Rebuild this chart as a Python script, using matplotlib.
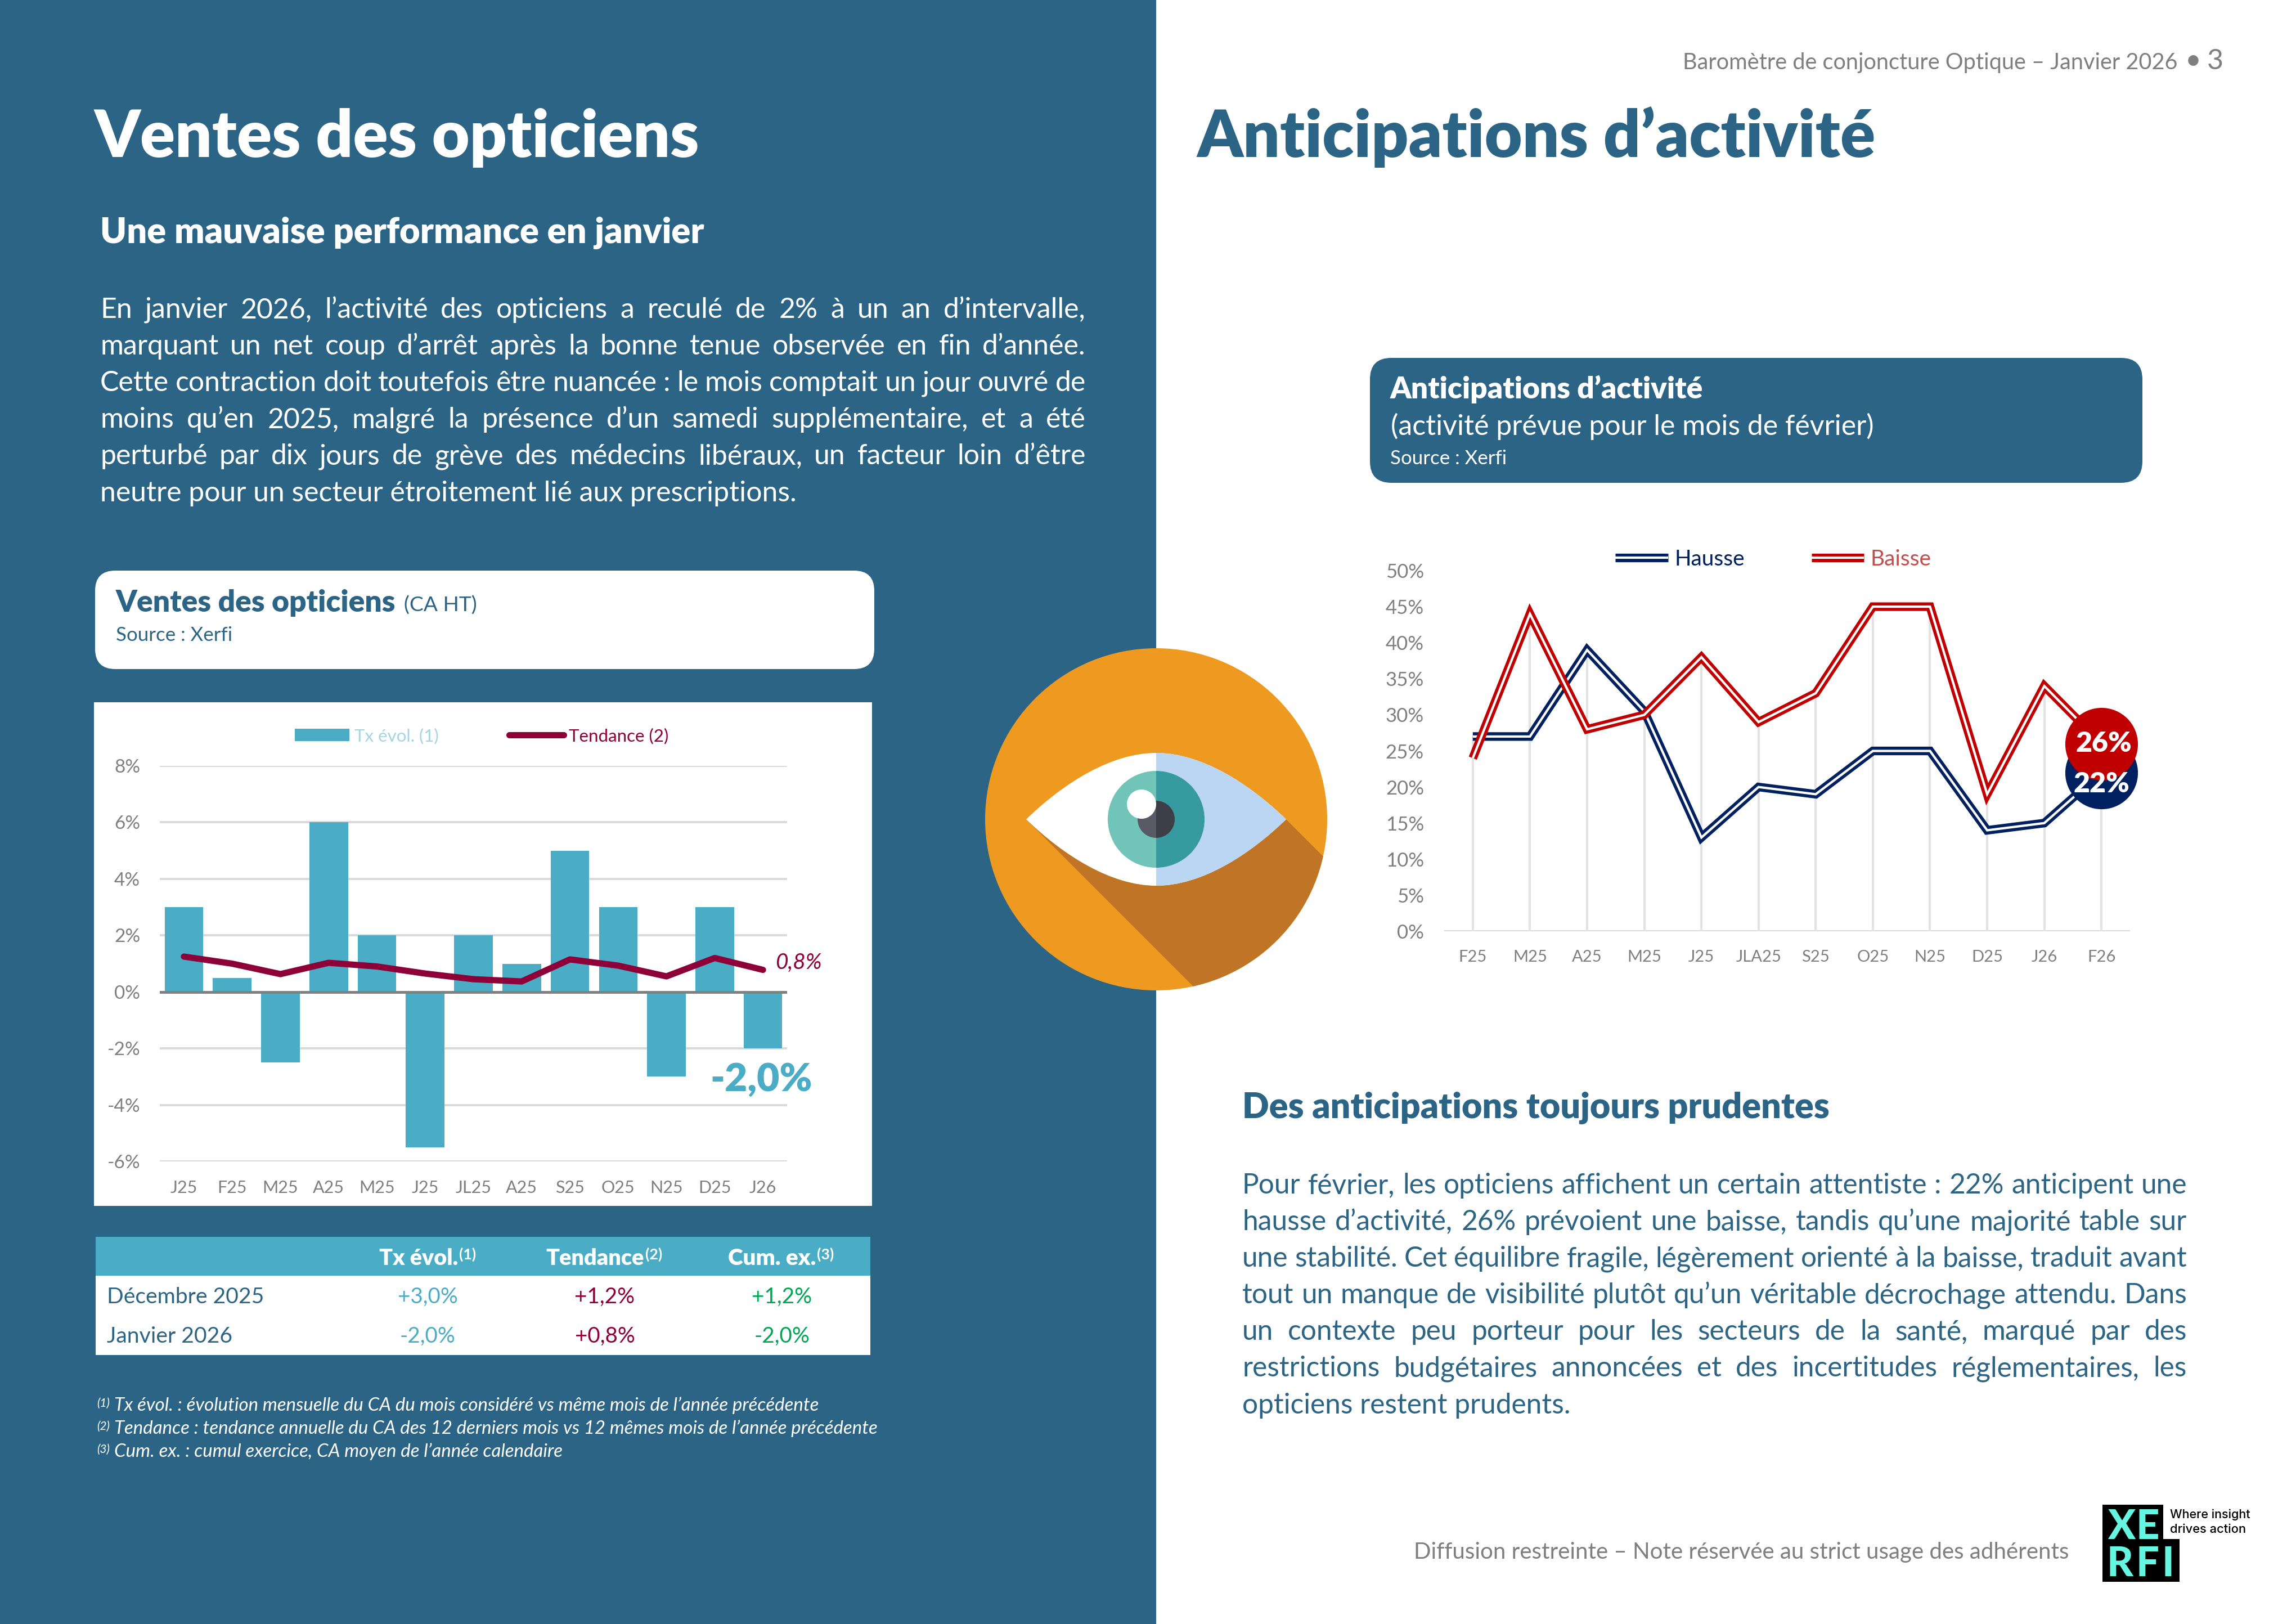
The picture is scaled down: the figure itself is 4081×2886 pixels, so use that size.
#!/usr/bin/env python3
"""Barometre optique, page 3: ventes des opticiens et anticipations d'activite"""

import matplotlib
matplotlib.use('Agg')
import matplotlib.pyplot as plt
from matplotlib.patches import Circle, FancyBboxPatch, PathPatch, Polygon, Rectangle, Wedge
from matplotlib.path import Path
import matplotlib.patheffects as pe

plt.rcParams['font.family'] = ['Lato', 'DejaVu Sans']

# Ventes des opticiens
sales_months = ['J25', 'F25', 'M25', 'A25', 'M25', 'J25', 'JL25', 'A25', 'S25', 'O25', 'N25', 'D25', 'J26']
sales_growth = [3, 0.5, -2.5, 6, 2, -5.5, 2, 1, 5, 3, -3, 3, -2]
sales_trend = [1.25, 1.0, 0.63, 1.03, 0.9, 0.65, 0.45, 0.37, 1.15, 0.93, 0.55, 1.2, 0.78]
sales_ticks = [-6, -4, -2, 0, 2, 4, 6, 8]

# Anticipations d'activite
antic_months = ['F25', 'M25', 'A25', 'M25', 'J25', 'JLA25', 'S25', 'O25', 'N25', 'D25', 'J26', 'F26']
antic_up = [27, 27, 39, 30.5, 13, 20, 19, 25, 25, 14, 15, 22]
antic_down = [24, 44, 28, 30, 38, 29, 33, 45, 45, 19, 34, 26]
antic_ticks = [0, 5, 10, 15, 20, 25, 30, 35, 40, 45, 50]

# Tableau
table_columns = ['Tx évol.', 'Tendance', 'Cum. ex.']
table_rows = ['Décembre 2025', 'Janvier 2026']
table_growth = ['+3,0%', '-2,0%']
table_trend = ['+1,2%', '+0,8%']
table_cumul = ['+1,2%', '-2,0%']

footnotes = [
    'Tx évol. : évolution mensuelle du CA du mois considéré vs même mois de l’année précédente',
    'Tendance : tendance annuelle du CA des 12 derniers mois vs 12 mêmes mois de l’année précédente',
    'Cum. ex. : cumul exercice, CA moyen de l’année calendaire',
]

left_lines = [
    'En janvier 2026, l’activité des opticiens a reculé de 2% à un an d’intervalle,',
    'marquant un net coup d’arrêt après la bonne tenue observée en fin d’année.',
    'Cette contraction doit toutefois être nuancée : le mois comptait un jour ouvré de',
    'moins qu’en 2025, malgré la présence d’un samedi supplémentaire, et a été',
    'perturbé par dix jours de grève des médecins libéraux, un facteur loin d’être',
    'neutre pour un secteur étroitement lié aux prescriptions.',
]
right_lines = [
    'Pour février, les opticiens affichent un certain attentiste : 22% anticipent une',
    'hausse d’activité, 26% prévoient une baisse, tandis qu’une majorité table sur',
    'une stabilité. Cet équilibre fragile, légèrement orienté à la baisse, traduit avant',
    'tout un manque de visibilité plutôt qu’un véritable décrochage attendu. Dans',
    'un contexte peu porteur pour les secteurs de la santé, marqué par des',
    'restrictions budgétaires annoncées et des incertitudes réglementaires, les',
    'opticiens restent prudents.',
]

W, H = 4081, 2886
BLUE = '#2C6486'
TEAL = '#4BACC6'
MAROON = '#8E0038'
GREEN = '#00A651'
NAVY = '#002060'
RED = '#C00000'
GREY = '#7F7F7F'
HEAD = 'heavy'

fig = plt.figure(figsize=(W / 100, H / 100), dpi=100, facecolor='white')
bg = fig.add_axes([0, 0, 1, 1], zorder=0)
bg.set_xlim(0, W)
bg.set_ylim(H, 0)
bg.axis('off')
renderer = fig.canvas.get_renderer()


def text_width(s, size, **kw):
    t = bg.text(0, 0, s, fontsize=size, **kw)
    w = t.get_window_extent(renderer).width
    t.remove()
    return w


def fit_size(s, width, **kw):
    return 40 * width / text_width(s, 40, **kw)


def put(x, y, s, width=None, size=None, color='white', **kw):
    """Text on baseline y (page pixels), sized to a target width if given"""
    style = {k: v for k, v in kw.items() if k in ('fontweight', 'fontstyle', 'family')}
    if width is not None:
        size = fit_size(s, width, **style)
    return bg.text(x, y, s, fontsize=size, color=color, va='baseline', **kw)


def justified(x0, x1, baselines, lines, size, color):
    for i, (line, y) in enumerate(zip(lines, baselines)):
        if i == len(lines) - 1:
            put(x0, y, line, size=size, color=color)
            continue
        words = line.split(' ')
        widths = [text_width(w, size) for w in words]
        gap = (x1 - x0 - sum(widths)) / (len(words) - 1)
        x = x0
        for word, w in zip(words, widths):
            put(x, y, word, size=size, color=color)
            x += w + gap


def rounded(x0, y0, x1, y1, r, color):
    bg.add_patch(FancyBboxPatch((x0 + r, y0 + r), x1 - x0 - 2 * r, y1 - y0 - 2 * r,
                                boxstyle=f'round,pad={r},rounding_size={r}',
                                fc=color, ec='none'))


# Page background
bg.add_patch(Rectangle((0, 0), 2055, H, fc=BLUE, ec='none'))

# Header and titles
put(2991, 123, 'Baromètre de conjoncture Optique – Janvier 2026', width=882, color=GREY)
put(3898, 123, '•', size=36, color=GREY, ha='center')
put(3923, 123, '3', size=36, color=GREY)
put(167, 279, 'Ventes des opticiens', width=1076, fontweight=HEAD)
put(2127, 279, 'Anticipations d’activité', width=1206, color=BLUE, fontweight=HEAD)
put(178, 432, 'Une mauvaise performance en janvier', width=1073, fontweight=HEAD)
put(2208, 1987, 'Des anticipations toujours prudentes', width=1042, color=BLUE, fontweight=HEAD)

# Paragraphs
size_left = fit_size(left_lines[-1], 1234)
justified(178, 1930, [565 + 65.1 * i for i in range(6)], left_lines, size_left, 'white')
size_right = fit_size(right_lines[-1], 583)
justified(2208, 3887, [2121 + 65.1 * i for i in range(7)], right_lines, size_right, BLUE)

# Left chart title box and panel
rounded(169, 1014, 1554, 1189, 36, 'white')
put(206, 1087, 'Ventes des opticiens', width=498, color=BLUE, fontweight=HEAD)
put(718, 1087, '(CA HT)', width=130, color=BLUE)
put(206, 1139, 'Source : Xerfi', width=207, color=BLUE)
bg.add_patch(Rectangle((167, 1248), 1383, 895, fc='white', ec='none'))

# Right chart title box
rounded(2435, 636, 3808, 858, 38, BLUE)
put(2471, 708, 'Anticipations d’activité', width=556, fontweight=HEAD)
put(2472, 773, '(activité prévue pour le mois de février)', width=856)
put(2471, 825, 'Source : Xerfi', width=207)

# Table
bg.add_patch(Rectangle((170, 2198), 1377, 69, fc=TEAL, ec='none'))
bg.add_patch(Rectangle((170, 2267), 1377, 141, fc='white', ec='none'))
head_x = [674, 970, 1294]
head_w = [140, 174, 156]
sup_x = [816, 1147, 1452]
for i, col in enumerate(table_columns):
    put(head_x[i], 2248, col, width=head_w[i], fontweight=HEAD)
    put(sup_x[i], 2238, f'({i + 1})', width=30, fontweight='bold')
row_y = [2316, 2386]
size_row = fit_size(table_rows[0], 279)
size_val = fit_size(table_growth[0], 107)
for i, row in enumerate(table_rows):
    put(190, row_y[i], row, size=size_row, color=BLUE)
    put(760, row_y[i], table_growth[i], size=size_val, color=TEAL, ha='center')
    put(1075, row_y[i], table_trend[i], size=size_val, color=MAROON, ha='center')
    put(1390, row_y[i], table_cumul[i], size=size_val, color=GREEN, ha='center')

# Footnotes
size_note = fit_size(footnotes[1], 1353, fontstyle='italic')
note_y = [2507, 2548, 2589]
for i, note in enumerate(footnotes):
    put(172, note_y[i] - 7, f'({i + 1})', width=23, fontstyle='italic')
    put(203, note_y[i], note, size=size_note, fontstyle='italic')

# Footer
put(2513, 2770, 'Diffusion restreinte – Note réservée au strict usage des adhérents', width=1165, color=GREY)

# Xerfi logo
bg.add_patch(Polygon([(3737, 2674), (3845, 2674), (3845, 2735), (3874, 2735), (3874, 2811), (3737, 2811)],
                     fc='black', ec='none'))
logo_letters = ['X', 'E', 'R', 'F', 'I']
logo_x = [3746, 3797, 3745, 3797, 3843]
logo_y = [2735, 2735, 2801, 2801, 2801]
for letter, x, y in zip(logo_letters, logo_x, logo_y):
    put(x, y, letter, size=52, color='#66F5E0', fontweight='black')
put(3857, 2698, 'Where insight', width=143, color='black', family='Inter', fontweight='medium')
put(3857, 2724, 'drives action', width=135, color='black', family='Inter', fontweight='medium')

# Eye icon
cx, cy, r = 2055, 1456, 304
disc = Circle((cx, cy), r, fc='#EE9A20', ec='none', zorder=2)
bg.add_patch(disc)
shadow = Polygon([(1824, 1456), (2286, 1456), (2440, 1610), (2440, 1776), (2144, 1776)],
                 fc='#C07526', ec='none', zorder=2.1)
bg.add_patch(shadow)
shadow.set_clip_path(disc)
eye_path = Path(
    [(1824, 1456), (1890, 1392), (1975, 1338), (2055, 1338), (2135, 1338), (2220, 1392), (2286, 1456),
     (2220, 1520), (2135, 1574), (2055, 1574), (1975, 1574), (1890, 1520), (1824, 1456)],
    [Path.MOVETO] + [Path.CURVE4] * 12)
bg.add_patch(PathPatch(eye_path, fc='white', ec='none', zorder=2.2))
eye_right = PathPatch(eye_path, fc='#BAD6F2', ec='none', zorder=2.3)
bg.add_patch(eye_right)
eye_right.set_clip_path(Rectangle((cx, 1300), 300, 320, transform=bg.transData))
bg.add_patch(Wedge((cx, cy), 86, 90, 270, fc='#70C4B8', ec='none', zorder=2.4))
bg.add_patch(Wedge((cx, cy), 86, 270, 90, fc='#379AA0', ec='none', zorder=2.4))
bg.add_patch(Wedge((cx, cy), 33, 90, 270, fc='#5A5A66', ec='none', zorder=2.5))
bg.add_patch(Wedge((cx, cy), 33, 270, 90, fc='#3E3E48', ec='none', zorder=2.5))
bg.add_patch(Circle((2029, 1429), 26, fc='white', ec='none', zorder=2.6))


def page_axes(x0, y0, x1, y1):
    ax = fig.add_axes([x0 / W, 1 - y1 / H, (x1 - x0) / W, (y1 - y0) / H], zorder=1)
    ax.patch.set_alpha(0)
    for side in ax.spines.values():
        side.set_visible(False)
    return ax


def page_legend(ax, handles, x, y, fontsize, handlelength, spacing, colors):
    leg = ax.legend(handles=handles, loc='center', bbox_to_anchor=(x / W, 1 - y / H),
                    bbox_transform=fig.transFigure, ncol=2, frameon=False, fontsize=fontsize,
                    handlelength=handlelength, handletextpad=0.3, columnspacing=spacing,
                    borderpad=0, borderaxespad=0)
    for t, c in zip(leg.get_texts(), colors):
        t.set_color(c)


# Sales chart
ax1 = page_axes(284, 1361, 1399, 2064)
x1 = list(range(len(sales_months)))
ax1.set_xlim(-0.5, 12.5)
ax1.set_ylim(-6, 8)
ax1.set_yticks(sales_ticks, [f'{v}%' for v in sales_ticks])
ax1.set_xticks(x1, sales_months)
ax1.grid(axis='y', color='#D9D9D9', lw=2.8)
ax1.set_axisbelow(True)
ax1.tick_params(axis='both', length=0, labelcolor=GREY)
ax1.tick_params(axis='y', pad=25, labelsize=24)
ax1.tick_params(axis='x', pad=24, labelsize=22)
bars = ax1.bar(x1, sales_growth, width=0.8, color=TEAL, label='Tx évol. (1)', zorder=2)
ax1.axhline(0, color=GREY, lw=3.5, zorder=3)
trend, = ax1.plot(x1, sales_trend, color=MAROON, lw=8, solid_capstyle='round', label='Tendance (2)', zorder=4)
page_legend(ax1, [bars, trend], 856, 1308, 22.5, 3.1, 4.0, ['#A5D5E3', MAROON])
ax1.annotate('0,8%', (x1[-1], sales_trend[-1]), xytext=(22, 13), textcoords='offset pixels',
             color=MAROON, fontsize=28, fontstyle='italic', ha='left', va='center')
ax1.annotate('-2,0%', (x1[-1], sales_growth[-1]), xytext=(-3, -56), textcoords='offset pixels',
             color=TEAL, fontsize=50, fontweight=HEAD, ha='center', va='center')

# Anticipations chart
ax2 = page_axes(2567, 1014, 3786, 1655)
x2 = list(range(len(antic_months)))
ax2.set_xlim(-0.5, 11.5)
ax2.set_ylim(0, 50)
ax2.set_yticks(antic_ticks, [f'{v}%' for v in antic_ticks])
ax2.set_xticks(x2, antic_months)
ax2.tick_params(axis='both', length=0, labelcolor=GREY)
ax2.tick_params(axis='y', pad=26, labelsize=25)
ax2.tick_params(axis='x', pad=24, labelsize=21)
ax2.axhline(0, color='#D9D9D9', lw=3.5, zorder=1)
ax2.vlines(x2, 0, [max(u, d) for u, d in zip(antic_up, antic_down)], color='#E3E3E3', lw=3, zorder=1)
handles = []
for values, color, name in [(antic_up, NAVY, 'Hausse'), (antic_down, RED, 'Baisse')]:
    line, = ax2.plot(x2, values, color='white', lw=3, label=name, clip_on=False, zorder=2,
                     solid_joinstyle='miter', solid_capstyle='butt',
                     path_effects=[pe.withStroke(linewidth=11, foreground=color)])
    handles.append(line)
ax2.plot(x2[-1], antic_up[-1], 'o', ms=93, mfc=NAVY, mec='none', clip_on=False, zorder=3)
ax2.plot(x2[-1], antic_down[-1], 'o', ms=93, mfc=RED, mec='none', clip_on=False, zorder=4)
ax2.annotate(f'{antic_up[-1]}%', (x2[-1], antic_up[-1]), xytext=(0, -21), textcoords='offset pixels',
             color='white', fontsize=36, fontweight=HEAD, ha='center', va='center', zorder=5,
             annotation_clip=False)
ax2.annotate(f'{antic_down[-1]}%', (x2[-1], antic_down[-1]), xytext=(4, 0), textcoords='offset pixels',
             color='white', fontsize=36, fontweight=HEAD, ha='center', va='center', zorder=5,
             annotation_clip=False)
page_legend(ax2, handles, 3152, 994, 28, 2.4, 3.05, [NAVY, '#C0504D'])

fig.savefig('out.png', dpi=100)
print('saved out.png')
